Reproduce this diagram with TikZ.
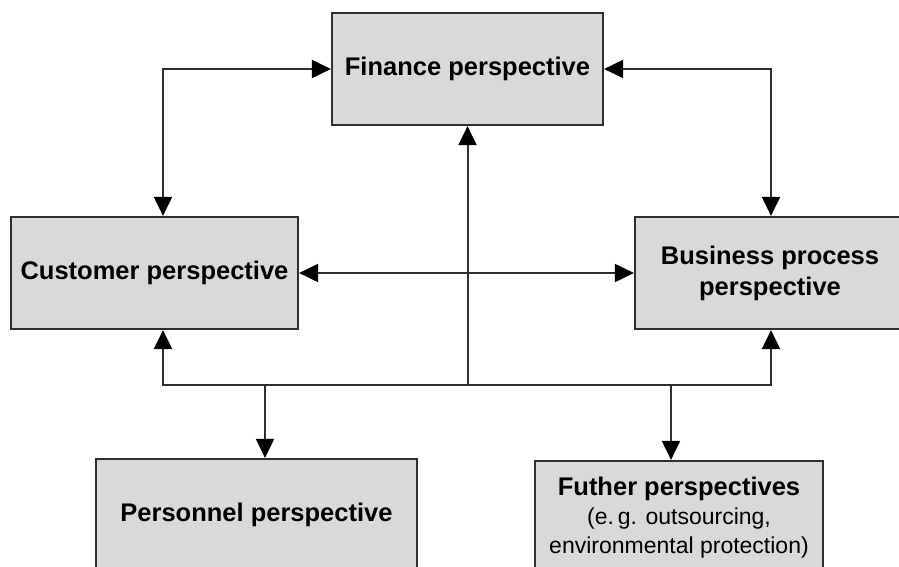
\documentclass[tikz,border=0pt]{standalone}
\usepackage{fontspec}
\setmainfont{Liberation Sans}
\usetikzlibrary{arrows.meta}
\definecolor{boxfill}{HTML}{D9D9D9}
\definecolor{linecol}{HTML}{2E2E2E}
\tikzset{
  pbox/.style={draw=linecol, line width=2.2pt, fill=boxfill, inner sep=0pt, align=center,
    font=\fontsize{25.5}{31}\selectfont\bfseries},
  conn/.style={draw=linecol, line width=2pt},
  tip/.style={-{Triangle[length=19pt,width=18pt,color=black]}},
  tips/.style={{Triangle[length=19pt,width=18pt,color=black]}-{Triangle[length=19pt,width=18pt,color=black]}},
}
\begin{document}
\begin{tikzpicture}[x=1pt,y=-1pt]
\useasboundingbox (0,0) rectangle (899,567);
\clip (0,0) rectangle (899,567);
\node[pbox, minimum width=271pt, minimum height=112pt] (fin) at (467.5,69) {Finance perspective};
\node[pbox, minimum width=287pt, minimum height=112pt] (cust) at (154.5,273) {Customer perspective};
\node[pbox, minimum width=270pt, minimum height=112pt] (biz) at (770,273) {Business process\\perspective};
\node[pbox, minimum width=321pt, minimum height=112pt] (pers) at (256.5,515) {Personnel perspective};
\node[pbox, minimum width=288pt, minimum height=114pt] (fur) at (679,518)
  {Futher perspectives\\[-2pt]{\fontsize{23}{27.5}\selectfont\mdseries (e.\,g. outsourcing,}\\[-2pt]{\fontsize{23}{27.5}\selectfont\mdseries environmental protection)}};
\coordinate (cl) at (163,69);
\coordinate (bl) at (163,385);
\coordinate (br) at (771,385);
\coordinate (bm) at (467.5,385);
\coordinate (bp) at (265,385);
\coordinate (bf) at (671,385);
\draw[conn, tips] (fin.west) -- (cl) -- (cl |- cust.north);
\draw[conn, tips] (fin.east) -- (br |- fin.east) -- (br |- biz.north);
\draw[conn, tips] (cust.east) -- (biz.west);
\draw[conn, tips] (bl |- cust.south) -- (bl) -- (br) -- (br |- biz.south);
\draw[conn, tip] (bm) -- (fin.south);
\draw[conn, tip] (bp) -- (bp |- pers.north);
\draw[conn, tip] (bf) -- (bf |- fur.north);
\end{tikzpicture}
\end{document}
